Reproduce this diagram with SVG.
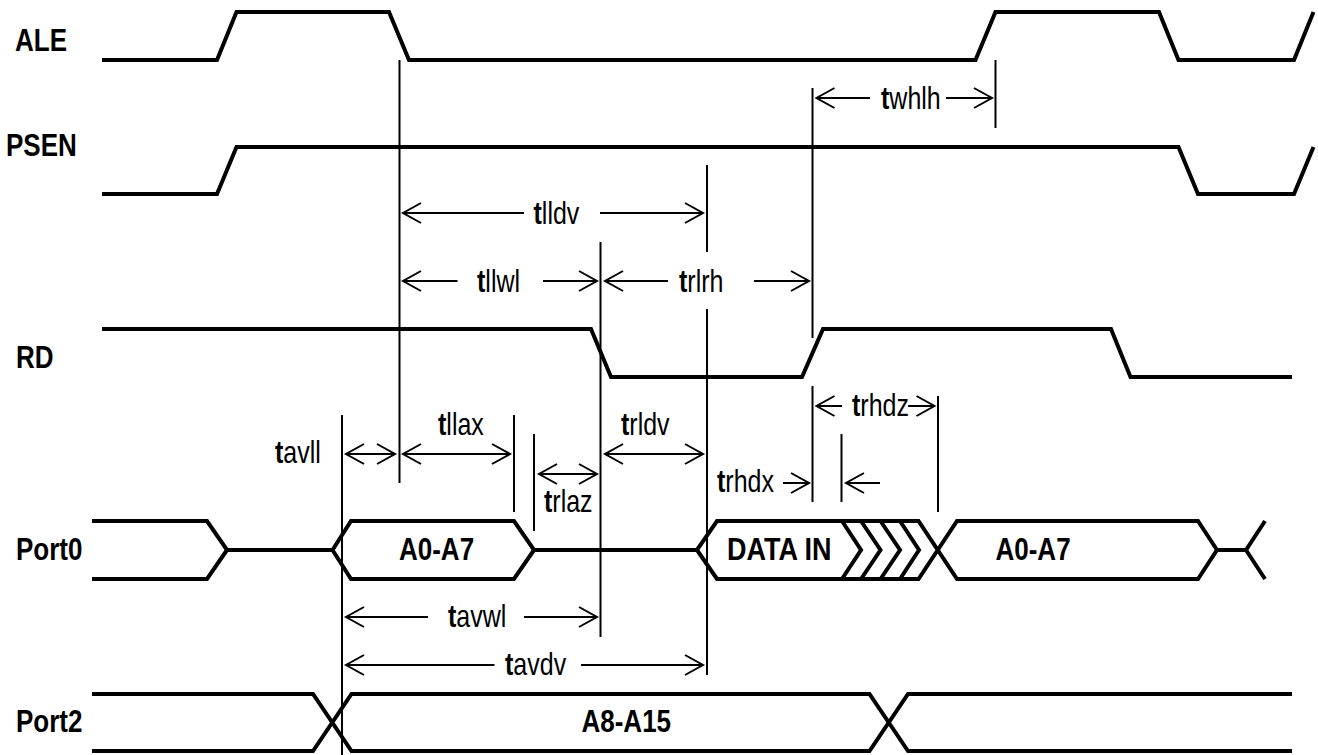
<svg xmlns="http://www.w3.org/2000/svg" width="1318" height="755" viewBox="0 0 1318 755">
<style>
.sig{fill:none;stroke:#000;stroke-width:4;stroke-linejoin:miter}
.tick{fill:none;stroke:#000;stroke-width:2}
.dim{fill:none;stroke:#000;stroke-width:2}
text{font-family:"Liberation Sans",Arial,sans-serif;font-size:25px;fill:#000}
text.b{font-weight:bold;font-size:26px}
tspan.t{font-weight:bold}
</style>
<defs>
<marker id="head" markerUnits="userSpaceOnUse" markerWidth="24" markerHeight="26" refX="20" refY="12" orient="auto-start-reverse" viewBox="0 0 24 26"><path d="M2,2 L20,12 L2,22" fill="none" stroke="#000" stroke-width="2"/></marker>
</defs>
<rect width="1318" height="755" fill="#fff"/>
<g id="ALE"><path class="sig" d="M102,60H217L236.500,12H389L409,60H975.500L995.500,12H1159L1178.500,60H1294L1313.500,12"/><text class="b" transform="translate(15 50.500) scale(1 1.23)">ALE</text></g>
<g id="PSEN"><path class="sig" d="M102,194H217L236.500,147H1178.500L1198,194H1294L1313.500,147"/><text class="b" transform="translate(6 156) scale(1 1.23)">PSEN</text></g>
<g id="RD"><path class="sig" d="M102,329H591L611,377H802L823,329H1111L1130.500,377H1292"/><text class="b" transform="translate(16 367.500) scale(1 1.23)">RD</text></g>
<g id="Port0"><path class="sig" d="M92,521H207L227,550H332.500L351,521H514L534,550H697L717,521H918.500L957,579H1198L1217,550H1246L1265,521"/><path class="sig" d="M92,579H207L227,550M332.500,550L351,579H514L534,550M697,550L717,579H918.500L957,521H1198L1217,550M1246,550L1265,579"/><path class="sig" d="M842,521L861,550L842,579M861,521L880.500,550L861,579M880.500,521L900,550L880.500,579M900,521L919,550L900,579"/><text class="b" transform="translate(16 560) scale(1 1.23)">Port0</text><text class="b" transform="translate(399 560) scale(1 1.23)">A0-A7</text><text class="b" style="font-size:27px" transform="translate(727 560) scale(1 1.19)">DATA IN</text><text class="b" transform="translate(995.500 560) scale(1 1.23)">A0-A7</text></g>
<g id="Port2"><path class="sig" d="M92,694H313L351.500,751H869.500L908,694H1292"/><path class="sig" d="M92,751H313L351.500,694H869.500L908,751H1292"/><text class="b" transform="translate(16 732) scale(1 1.23)">Port2</text><text class="b" transform="translate(581.500 732) scale(1 1.23)">A8-A15</text></g>
<g id="connectors">
<path class="tick" d="M399.500,60V483M600.500,242V637M707,165V252M707,309V675M812.500,88V338M995.500,60V128M342,415V755M514,415V512M534,434V531M812.500,386V502M841.500,434V502M938,396V512"/>
<g class="dim">
<path d="M524,213H403" marker-end="url(#head)"/><path d="M600,213H703" marker-end="url(#head)"/>
<path d="M457.500,281H403" marker-end="url(#head)"/><path d="M543,281H597" marker-end="url(#head)"/>
<path d="M668,281H605" marker-end="url(#head)"/><path d="M754,281H809" marker-end="url(#head)"/>
<path d="M870,98H816.500" marker-end="url(#head)"/><path d="M946,98H992" marker-end="url(#head)"/>
<path d="M346,454H395" marker-start="url(#head)" marker-end="url(#head)"/>
<path d="M403,454H510" marker-start="url(#head)" marker-end="url(#head)"/>
<path d="M539,474H597" marker-start="url(#head)" marker-end="url(#head)"/>
<path d="M605,454H703" marker-start="url(#head)" marker-end="url(#head)"/>
<path d="M783,483H809" marker-end="url(#head)"/><path d="M880,483H846" marker-end="url(#head)"/>
<path d="M842,406H816.500" marker-end="url(#head)"/><path d="M908,406H934.500" marker-end="url(#head)"/>
<path d="M428,617H346" marker-end="url(#head)"/><path d="M524,617H597" marker-end="url(#head)"/>
<path d="M494.500,665H346" marker-end="url(#head)"/><path d="M581,665H703" marker-end="url(#head)"/>
</g>
</g>
<g id="timing-labels">
<text transform="translate(533.500 224) scale(1 1.22)"><tspan class="t">t</tspan>lldv</text>
<text transform="translate(477 292) scale(1 1.22)"><tspan class="t">t</tspan>llwl</text>
<text transform="translate(679 292) scale(1 1.22)"><tspan class="t">t</tspan>rlrh</text>
<text transform="translate(881 109) scale(1 1.22)"><tspan class="t">t</tspan>whlh</text>
<text transform="translate(275 463) scale(1 1.22)"><tspan class="t">t</tspan>avll</text>
<text transform="translate(438 435) scale(1 1.22)"><tspan class="t">t</tspan>llax</text>
<text transform="translate(544 512) scale(1 1.22)"><tspan class="t">t</tspan>rlaz</text>
<text transform="translate(621 435) scale(1 1.22)"><tspan class="t">t</tspan>rldv</text>
<text transform="translate(717 492) scale(1 1.22)"><tspan class="t">t</tspan>rhdx</text>
<text transform="translate(852 416) scale(1 1.22)"><tspan class="t">t</tspan>rhdz</text>
<text transform="translate(448 627) scale(1 1.22)"><tspan class="t">t</tspan>avwl</text>
<text transform="translate(505 675) scale(1 1.22)"><tspan class="t">t</tspan>avdv</text>
</g>
</svg>
